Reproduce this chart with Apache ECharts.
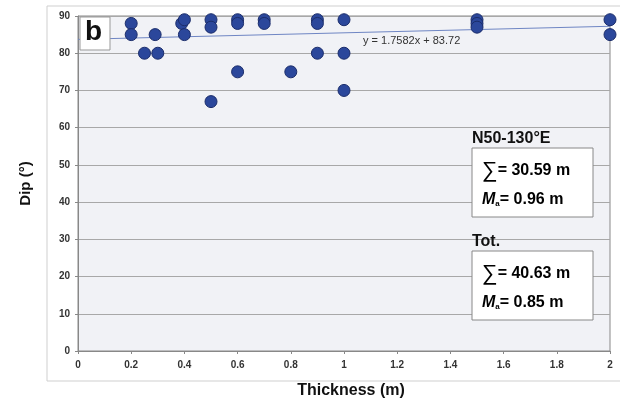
<!DOCTYPE html>
<html>
<head>
<meta charset="utf-8">
<script src="https://cdn.jsdelivr.net/npm/echarts@6/dist/echarts.min.js"></script>
<style>
  html, body { margin: 0; padding: 0; background: #fff; }
  #chart { width: 620px; height: 404px; }
</style>
</head>
<body>
<div id="chart"></div>
<script>
// thickness (m) vs dip (deg)
let thickness = [0.2, 0.2, 0.25, 0.29, 0.3, 0.39, 0.4, 0.4, 0.5, 0.5, 0.5, 0.6, 0.6, 0.6, 0.7, 0.7, 0.8, 0.9, 0.9, 0.9, 1, 1, 1, 1.5, 1.5, 1.5, 2, 2];
let dip       = [88, 85, 80, 85, 80, 88, 89, 85, 89, 87, 67, 89, 88, 75, 89, 88, 75, 89, 88, 80, 89, 80, 70, 89, 88, 87, 89, 85];

// linear trend y = 1.7582x + 83.72, end points
let trendX = [0, 2];
let trendY = [83.72, 87.24];
let trendLabel = 'y = 1.7582x + 83.72';

let xTicks = [0, 0.2, 0.4, 0.6, 0.8, 1, 1.2, 1.4, 1.6, 1.8, 2];
let yTicks = [0, 10, 20, 30, 40, 50, 60, 70, 80, 90];

let panelLetter = 'b';
let group1Title = 'N50-130°E';
let group1Sum = '30.59';
let group1Mean = '0.96';
let group2Title = 'Tot.';
let group2Sum = '40.63';
let group2Mean = '0.85';

let font = 'Arial, "Liberation Sans", sans-serif';

let pts = [];
for (let i = 0; i < thickness.length; i++) {
    pts.push([thickness[i], dip[i]]);
}
let trend = [];
for (let i = 0; i < trendX.length; i++) {
    trend.push([trendX[i], trendY[i]]);
}

let boxRich = {
    s: { fontFamily: font, fontSize: 22, color: '#111', fontWeight: 'normal' },
    b: { fontFamily: font, fontSize: 16, color: '#111', fontWeight: 'bold' },
    m: { fontFamily: font, fontSize: 16, color: '#111', fontWeight: 'bold', fontStyle: 'italic' },
    sub: { fontFamily: font, fontSize: 8, color: '#111', fontWeight: 'bold', verticalAlign: 'bottom', padding: [8, 0, 0, 0] }
};

function statBox(top, title, sum, mean) {
    return [
        {
            type: 'text', left: 472, top: top - 17, z: 10,
            style: { text: title, font: 'bold 16px ' + font, fill: '#111' }
        },
        {
            type: 'rect', shape: { x: 472, y: top, width: 121, height: 69 }, z: 10,
            style: { fill: '#fff', stroke: '#888', lineWidth: 1 }
        },
        {
            type: 'text', left: 482, top: top + 12, z: 11,
            style: { text: '{s|∑}{b|= ' + sum + ' m}', rich: boxRich }
        },
        {
            type: 'text', left: 482, top: top + 44, z: 11,
            style: { text: '{m|M}{sub|a}{b|= ' + mean + ' m}', rich: boxRich }
        }
    ];
}

let myChart = echarts.init(document.getElementById('chart'), null, { renderer: 'canvas' });

let option = {
    backgroundColor: '#fff',
    animation: false,
    grid: {
        left: 78, right: 10, top: 16, bottom: 53,
        show: true,
        backgroundColor: '#f1f2f6',
        borderColor: '#888',
        borderWidth: 1
    },
    xAxis: {
        type: 'value',
        min: 0, max: 2, interval: 0.2,
        name: 'Thickness (m)',
        nameLocation: 'middle',
        nameGap: 32,
        nameTextStyle: { fontFamily: font, fontSize: 16, fontWeight: 'bold', color: '#111', padding: [0, 0, 0, 14] },
        axisLine: { show: true, lineStyle: { color: '#888' } },
        axisTick: { show: true, length: 3, lineStyle: { color: '#888' } },
        axisLabel: {
            fontFamily: font, fontSize: 10, fontWeight: 'bold', color: '#333', margin: 9,
            formatter: function (v) { return xTicks.indexOf(+v.toFixed(1)) >= 0 ? String(+v.toFixed(1)) : ''; }
        },
        splitLine: { show: false }
    },
    yAxis: {
        type: 'value',
        min: 0, max: 90, interval: 10,
        name: 'Dip (°)',
        nameLocation: 'middle',
        nameGap: 45,
        nameRotate: 90,
        nameTextStyle: { fontFamily: font, fontSize: 15, fontWeight: 'bold', color: '#111' },
        axisLine: { show: true, lineStyle: { color: '#888' } },
        axisTick: { show: true, length: 3, lineStyle: { color: '#888' } },
        axisLabel: {
            fontFamily: font, fontSize: 10, fontWeight: 'bold', color: '#333', margin: 8,
            formatter: function (v) { return yTicks.indexOf(v) >= 0 ? String(v) : ''; }
        },
        splitLine: { show: true, lineStyle: { color: '#a8a8a8', width: 1 } }
    },
    series: [
        {
            name: 'trend',
            type: 'line',
            data: trend,
            showSymbol: false,
            lineStyle: { color: '#6f86c4', width: 1 },
            z: 2
        },
        {
            name: 'dip',
            type: 'scatter',
            data: pts,
            symbolSize: 12,
            itemStyle: { color: '#2b479b', borderColor: '#1b2d6b', borderWidth: 1, opacity: 1 },
            z: 3
        }
    ],
    graphic: [
        {
            type: 'rect', shape: { x: 47, y: 6, width: 620, height: 375 },
            style: { fill: 'none', stroke: '#cfcfcf', lineWidth: 1 }, z: -10
        },
        {
            type: 'rect', shape: { x: 80, y: 17, width: 30, height: 33 },
            style: { fill: '#fff', stroke: '#999', lineWidth: 1 }, z: 10
        },
        {
            type: 'text', left: 85, top: 18, z: 11,
            style: { text: panelLetter, font: 'bold 28px ' + font, fill: '#111' }
        },
        {
            type: 'text', left: 363, top: 35, z: 10,
            style: { text: trendLabel, font: '11px ' + font, fill: '#333' }
        }
    ].concat(statBox(148, group1Title, group1Sum, group1Mean))
     .concat(statBox(251, group2Title, group2Sum, group2Mean))
};

myChart.setOption(option);
</script>
</body>
</html>
